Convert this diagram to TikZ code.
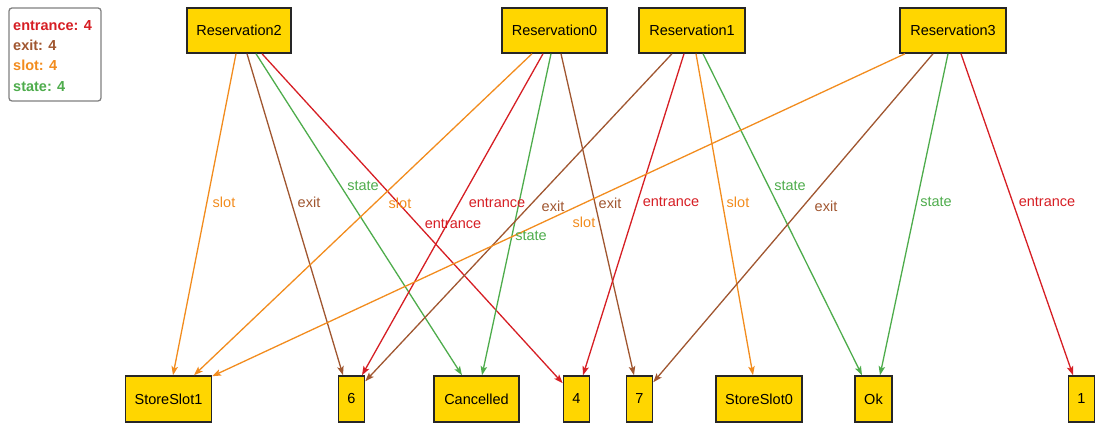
\documentclass[tikz,border=0pt]{standalone}
\usepackage{fontspec}
\setmainfont{Liberation Sans}
\usetikzlibrary{arrows.meta}
\definecolor{entrancec}{RGB}{214,30,36}
\definecolor{exitc}{RGB}{160,86,48}
\definecolor{slotc}{RGB}{242,140,30}
\definecolor{statec}{RGB}{78,172,76}
\definecolor{boxfill}{RGB}{255,214,0}
\tikzset{
  obj/.style={draw=black!85, fill=boxfill, line width=1.5pt, inner xsep=9pt, minimum height=45pt, font=\fontsize{14.5}{17}\selectfont},
  rel/.style={line width=1.3pt, -{Stealth[length=9pt,width=6.5pt,inset=2pt]}},
  lbl/.style={inner sep=0pt, font=\fontsize{14.5}{17}\selectfont},
}
\begin{document}
\begin{tikzpicture}[x=1pt,y=-1pt]
                \useasboundingbox (0,0) rectangle (1114,443);
                
                % Drawing legend
                \draw [line width=1.3pt, draw=black!50, rounded corners=3pt] (9,8) rectangle (101,101);%
                \node [lbl, anchor=west, text=entrancec, font=\fontsize{14.5}{17}\selectfont\bfseries] (legentrance) at (13,25.7) {entrance: 4};%
                \node [lbl, anchor=west, text=exitc, font=\fontsize{14.5}{17}\selectfont\bfseries] (legexit) at (13,45.7) {exit: 4};%
                \node [lbl, anchor=west, text=slotc, font=\fontsize{14.5}{17}\selectfont\bfseries] (legslot) at (13,65.7) {slot: 4};%
                \node [lbl, anchor=west, text=statec, font=\fontsize{14.5}{17}\selectfont\bfseries] (legstate) at (13,86.7) {state: 4};%
                
                % Drawing reservations
                \node [obj, minimum width=104pt] (res2) at (239,30.5) {Reservation2};%
                \node [obj, minimum width=105pt] (res0) at (554.5,30.5) {Reservation0};%
                \node [obj, minimum width=106pt] (res1) at (692,30.5) {Reservation1};%
                \node [obj, minimum width=106pt] (res3) at (953,30.5) {Reservation3};%
                
                % Drawing values
                \node [obj, minimum width=85pt, minimum height=46pt] (slot1) at (168.5,399) {StoreSlot1};%
                \node [obj, minimum width=25pt, minimum height=46pt] (six) at (351.5,399) {6};%
                \node [obj, minimum width=85pt, minimum height=46pt] (cancelled) at (476.5,399) {Cancelled};%
                \node [obj, minimum width=25pt, minimum height=46pt] (four) at (576.5,399) {4};%
                \node [obj, minimum width=25pt, minimum height=46pt] (seven) at (639.5,399) {7};%
                \node [obj, minimum width=86pt, minimum height=46pt] (slot0) at (759,399) {StoreSlot0};%
                \node [obj, minimum width=33pt, minimum height=46pt] (ok) at (873.5,399) {Ok};%
                \node [obj, minimum width=25pt, minimum height=46pt] (one) at (1081.5,399) {1};%
                
                % Drawing edges of Reservation2
                \draw [rel, slotc] ([xshift=-3pt]res2.south) -- ([xshift=4.5pt]slot1.north);%
                \draw [rel, exitc] ([xshift=8pt]res2.south) -- ([xshift=-8.5pt]six.north);%
                \draw [rel, statec] ([xshift=17pt]res2.south) -- ([xshift=-14.5pt]cancelled.north);%
                \draw [rel, entrancec] ([xshift=23pt]res2.south) -- ([yshift=-8pt]four.north west);%
                
                % Drawing edges of Reservation0
                \draw [rel, slotc] ([xshift=-22.5pt]res0.south) -- ([xshift=25.5pt]slot1.north);%
                \draw [rel, entrancec] ([xshift=-11.5pt]res0.south) -- ([xshift=10.5pt]six.north);%
                \draw [rel, statec] ([xshift=-3.5pt]res0.south) -- ([xshift=5.5pt]cancelled.north);%
                \draw [rel, exitc] ([xshift=6.5pt]res0.south) -- ([xshift=-5.5pt]seven.north);%
                
                % Drawing edges of Reservation1
                \draw [rel, exitc] ([xshift=-20pt]res1.south) -- ([yshift=-6pt]six.north east);%
                \draw [rel, entrancec] ([xshift=-8pt]res1.south) -- ([xshift=6.5pt]four.north);%
                \draw [rel, slotc] ([xshift=4pt]res1.south) -- ([xshift=-6pt]slot0.north);%
                \draw [rel, statec] ([xshift=11pt]res1.south) -- ([xshift=-11.5pt]ok.north);%
                
                % Drawing edges of Reservation3
                \draw [rel, slotc] ([xshift=-48pt]res3.south) -- ([yshift=-1pt]slot1.north east);%
                \draw [rel, exitc] ([xshift=-20pt]res3.south) -- ([yshift=-7pt]seven.north east);%
                \draw [rel, statec] ([xshift=-5pt]res3.south) -- ([xshift=6.5pt]ok.north);%
                \draw [rel, entrancec] ([xshift=8pt]res3.south) -- ([xshift=-8.5pt]one.north);%
                
                % Marking edge labels
                \node [lbl, text=slotc] (l2slot) at (224,202) {slot};%
                \node [lbl, text=exitc] (l2exit) at (309,202) {exit};%
                \node [lbl, text=statec] (l2state) at (363,186) {state};%
                \node [lbl, text=entrancec] (l2entrance) at (453,224) {entrance};%
                \node [lbl, text=slotc] (l0slot) at (400,203) {slot};%
                \node [lbl, text=entrancec] (l0entrance) at (497,203) {entrance};%
                \node [lbl, text=statec] (l0state) at (531,236) {state};%
                \node [lbl, text=exitc] (l0exit) at (610,203) {exit};%
                \node [lbl, text=exitc] (l1exit) at (553,206) {exit};%
                \node [lbl, text=entrancec] (l1entrance) at (671,202) {entrance};%
                \node [lbl, text=slotc] (l1slot) at (738,202) {slot};%
                \node [lbl, text=statec] (l1state) at (790,186) {state};%
                \node [lbl, text=slotc] (l3slot) at (584,222) {slot};%
                \node [lbl, text=exitc] (l3exit) at (826,206) {exit};%
                \node [lbl, text=statec] (l3state) at (936,202) {state};%
                \node [lbl, text=entrancec] (l3entrance) at (1047,202) {entrance};%
\end{tikzpicture}
\end{document}
